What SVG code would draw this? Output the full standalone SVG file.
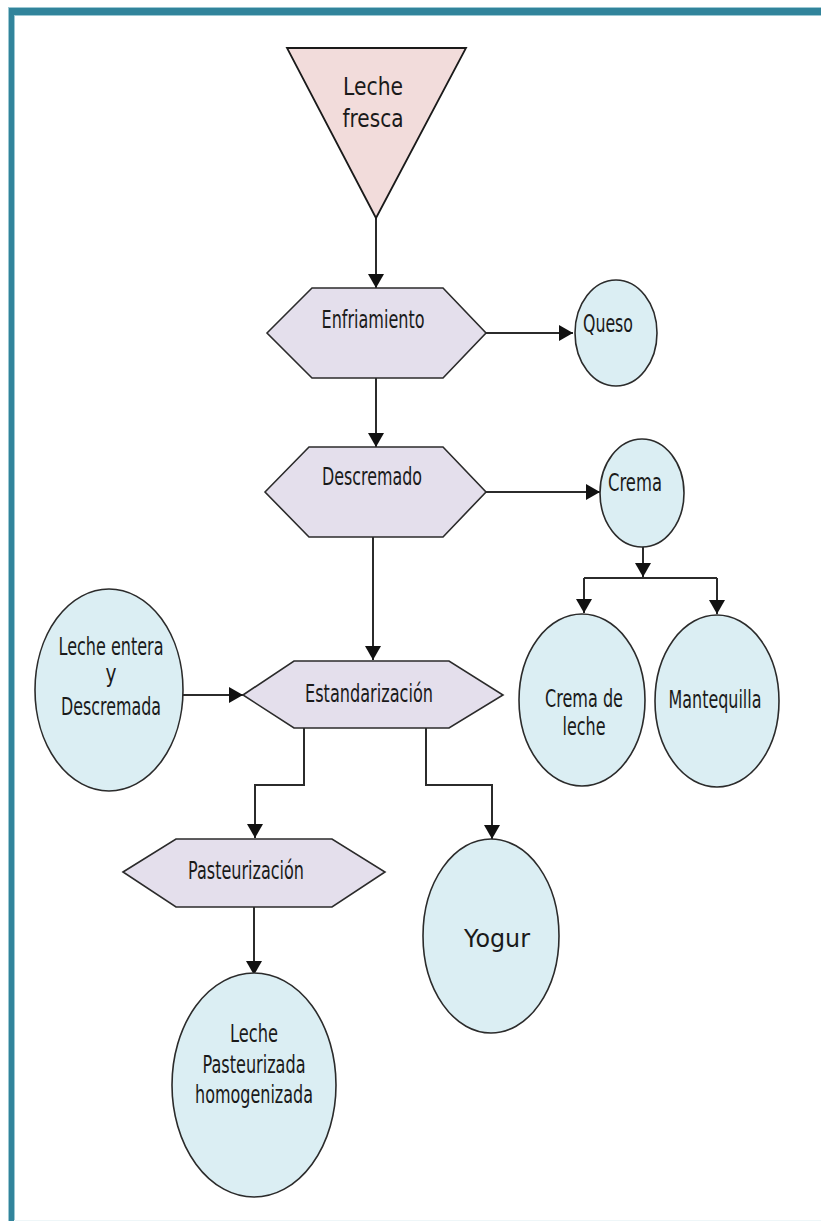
<svg xmlns="http://www.w3.org/2000/svg" width="821" height="1221" viewBox="0 0 821 1221">
<style>
.hex{fill:#e4dfec;stroke:#2b2b2b;stroke-width:1.6}
.oval{fill:#dbeef3;stroke:#2b2b2b;stroke-width:1.6}
.tri{fill:#f2dcdb;stroke:#1a1a1a;stroke-width:1.8}
.t{font-family:"DejaVu Sans",sans-serif;font-size:24px;fill:#1a1a1a;text-anchor:middle}
.c{fill:none;stroke:#2b2b2b;stroke-width:2}
</style>
<defs>
<marker id="ah" markerWidth="14" markerHeight="16" refX="14" refY="8" orient="auto" markerUnits="userSpaceOnUse">
<path d="M0,0 L14,8 L0,16 Z" fill="#111"/>
</marker>
</defs>
<rect x="0" y="0" width="821" height="1221" fill="#ffffff"/>
<g id="frame">
<rect x="8" y="7" width="813" height="9" fill="#9cc8d3"/>
<rect x="8" y="7" width="7" height="1214" fill="#9cc8d3"/>
<rect x="9" y="8" width="812" height="7" fill="#31849b"/>
<rect x="9" y="8" width="5" height="1213" fill="#31849b"/>
<line x1="14" y1="1220.5" x2="821" y2="1220.5" stroke="#eef6f8" stroke-width="1"/>
</g>
<g id="connectors">
<path class="c" d="M376,218 V288" marker-end="url(#ah)"/>
<path class="c" d="M486,333 H573" marker-end="url(#ah)"/>
<path class="c" d="M376,378 V447" marker-end="url(#ah)"/>
<path class="c" d="M486,492 H600" marker-end="url(#ah)" stroke="#444" stroke-width="2.5"/>
<path class="c" d="M643,547 V577" marker-end="url(#ah)"/>
<path class="c" d="M584,578 H717"/>
<path class="c" d="M584,578 V613" marker-end="url(#ah)"/>
<path class="c" d="M717,578 V614" marker-end="url(#ah)"/>
<path class="c" d="M373,537 V660" marker-end="url(#ah)"/>
<path class="c" d="M183,695 H243" marker-end="url(#ah)"/>
<path class="c" d="M304,728 V785 H255 V838" marker-end="url(#ah)"/>
<path class="c" d="M426,728 V785 H492 V839" marker-end="url(#ah)"/>
<path class="c" d="M254,907 V975" marker-end="url(#ah)"/>
</g>
<g id="leche-fresca">
<polygon class="tri" points="287,48 466,48 376,218"/>
<text class="t" x="373" y="95" font-size="31" textLength="60" lengthAdjust="spacingAndGlyphs">Leche</text>
<text class="t" x="373" y="127" font-size="31" textLength="61" lengthAdjust="spacingAndGlyphs">fresca</text>
</g>
<g id="enfriamiento">
<polygon class="hex" points="267,333 312,288 443,288 486,333 443,378 312,378"/>
<text class="t" x="373" y="328" textLength="103" lengthAdjust="spacingAndGlyphs">Enfriamiento</text>
</g>
<g id="queso">
<ellipse class="oval" cx="616" cy="333" rx="41" ry="53"/>
<text class="t" x="608" y="332" textLength="50" lengthAdjust="spacingAndGlyphs">Queso</text>
</g>
<g id="descremado">
<polygon class="hex" points="265,492 309,447 443,447 486,492 443,537 309,537"/>
<text class="t" x="372" y="485" textLength="100" lengthAdjust="spacingAndGlyphs">Descremado</text>
</g>
<g id="crema">
<ellipse class="oval" cx="642" cy="493" rx="42" ry="54"/>
<text class="t" x="635" y="491" textLength="54" lengthAdjust="spacingAndGlyphs">Crema</text>
</g>
<g id="crema-de-leche">
<ellipse class="oval" cx="582" cy="700" rx="63" ry="86"/>
<text class="t" x="584" y="707" textLength="78" lengthAdjust="spacingAndGlyphs">Crema de</text>
<text class="t" x="584" y="735" textLength="43" lengthAdjust="spacingAndGlyphs">leche</text>
</g>
<g id="mantequilla">
<ellipse class="oval" cx="717" cy="701" rx="62" ry="86"/>
<text class="t" x="715" y="708" textLength="93" lengthAdjust="spacingAndGlyphs">Mantequilla</text>
</g>
<g id="leche-entera">
<ellipse class="oval" cx="109" cy="690" rx="74" ry="101"/>
<text class="t" x="111" y="655" font-size="22" textLength="105" lengthAdjust="spacingAndGlyphs">Leche entera</text>
<text class="t" x="111" y="682" font-size="22" textLength="11" lengthAdjust="spacingAndGlyphs">y</text>
<text class="t" x="111" y="715" font-size="22" textLength="100" lengthAdjust="spacingAndGlyphs">Descremada</text>
</g>
<g id="estandarizacion">
<polygon class="hex" points="243,695 294,661 449,661 503,695 449,728 294,728"/>
<text class="t" x="369" y="702" textLength="128" lengthAdjust="spacingAndGlyphs">Estandarización</text>
</g>
<g id="pasteurizacion">
<polygon class="hex" points="123,872 176,839 332,839 385,872 332,907 176,907"/>
<text class="t" x="246" y="879" textLength="116" lengthAdjust="spacingAndGlyphs">Pasteurización</text>
</g>
<g id="yogur">
<ellipse class="oval" cx="491" cy="936" rx="68" ry="97"/>
<text class="t" x="497" y="947" font-size="33" textLength="66" lengthAdjust="spacingAndGlyphs">Yogur</text>
</g>
<g id="leche-pasteurizada">
<ellipse class="oval" cx="254" cy="1085" rx="82" ry="112"/>
<text class="t" x="254" y="1042" textLength="48" lengthAdjust="spacingAndGlyphs">Leche</text>
<text class="t" x="254" y="1073" textLength="103" lengthAdjust="spacingAndGlyphs">Pasteurizada</text>
<text class="t" x="254" y="1103" textLength="118" lengthAdjust="spacingAndGlyphs">homogenizada</text>
</g>
</svg>
